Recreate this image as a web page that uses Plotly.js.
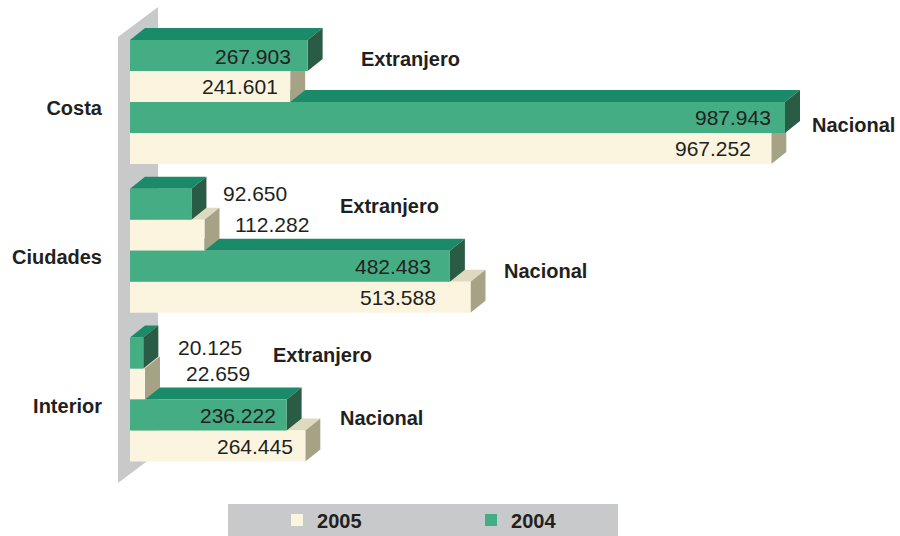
<!DOCTYPE html>
<html>
<head>
<meta charset="utf-8">
<script src="https://cdn.plot.ly/plotly-3.0.1.min.js"></script>
<style>
  body { margin: 0; background: #fff; }
  #chart { width: 900px; height: 536px; }
</style>
</head>
<body>
<div id="chart"></div>
<script>
const groups = ["Costa", "Ciudades", "Interior"];
const origins = ["Extranjero", "Nacional"];
// order: Costa Extranjero, Costa Nacional, Ciudades Extranjero, ...
const values2004 = [267903, 987943, 92650, 482483, 20125, 236222];
const values2005 = [241601, 967252, 112282, 513588, 22659, 264445];

// label placement (pixels): negative = inside bar end, positive = outside
const shift2004 = [-15, -12, 30, -17, 33, -9];
const shift2005 = [-10, -18, 29, -33, 39, -10];
const raise2004 = [-1, 0, 11, 0, 6, 0];
const raise2005 = [0, 0, 11, 0, 11, 0];
const originShift = [51, 25, 134, 31, 126, 33];
const originRaise = [12, 8, 14, 11, 14, 13];

const FONT = "Liberation Sans, Arial, sans-serif";
const INK = "#231f20";
const GROUP_STEP = 4.8;
const UNITS_PER_PX = 1508.3;
const DX = 15 * UNITS_PER_PX;
const DY = 12 / 31;

const green = {front: "#44ad84", top: "#1b8a69", side: "#2a5c45"};
const cream = {front: "#fbf5df", top: "#dedac0", side: "#a6a286"};

function fmt(v) {
    return String(v).replace(/\B(?=(\d{3})+(?!\d))/g, ".");
}

const pos2004 = values2004.map((v, i) => Math.floor(i / 2) * GROUP_STEP + (i % 2) * 2);
const pos2005 = pos2004.map(p => p + 1);

// back wall and legend panel
const shapes = [
    {
        type: "path", xref: "paper", yref: "paper", layer: "below",
        path: "M0.0101,0.931 L0.0608,0.987 L0.0608,0.155 L0.0101,0.099 Z",
        fillcolor: "#c8c9cb", line: {width: 0}
    },
    {
        type: "rect", xref: "paper", yref: "paper", layer: "below",
        x0: 0.1494, x1: 0.643, y0: 0, y1: 0.0597,
        fillcolor: "#c8c9cb", line: {width: 0}
    }
];

// 3d faces, drawn from the lowest bar upwards
const bars = [];
values2004.forEach((v, i) => bars.push({v, p: pos2004[i], c: green}));
values2005.forEach((v, i) => bars.push({v, p: pos2005[i], c: cream}));
bars.sort((a, b) => b.p - a.p);
bars.forEach(b => {
    const t = b.p - 0.5, bt = b.p + 0.5;
    shapes.push({
        type: "path", xref: "x", yref: "y", layer: "below",
        path: `M0,${t} L${b.v},${t} L${b.v + DX},${t - DY} L${DX},${t - DY} Z`,
        fillcolor: b.c.top, line: {width: 0}
    });
    shapes.push({
        type: "path", xref: "x", yref: "y", layer: "below",
        path: `M${b.v},${t} L${b.v + DX},${t - DY} L${b.v + DX},${bt - DY} L${b.v},${bt} Z`,
        fillcolor: b.c.side, line: {width: 0}
    });
});

const annotations = [];
function valueLabel(v, p, sh, rs) {
    annotations.push({
        x: v, y: p, xref: "x", yref: "y", text: fmt(v), showarrow: false,
        xanchor: sh < 0 ? "right" : "left", xshift: sh, yshift: rs,
        font: {family: FONT, size: 21, color: INK}
    });
}
values2004.forEach((v, i) => valueLabel(v, pos2004[i], shift2004[i], raise2004[i]));
values2005.forEach((v, i) => valueLabel(v, pos2005[i], shift2005[i], raise2005[i]));
values2004.forEach((v, i) => {
    annotations.push({
        x: Math.max(v, values2005[i]), y: pos2004[i] + 0.5, xref: "x", yref: "y",
        text: "<b>" + origins[i % 2] + "</b>", showarrow: false,
        xanchor: "left", xshift: originShift[i], yshift: originRaise[i],
        font: {family: FONT, size: 20, color: INK}
    });
});

const traces = [
    {
        type: "bar", orientation: "h", name: "2005",
        x: values2005, y: pos2005, width: 1,
        marker: {color: cream.front, line: {width: 0}},
        hoverinfo: "x"
    },
    {
        type: "bar", orientation: "h", name: "2004",
        x: values2004, y: pos2004, width: 1,
        marker: {color: green.front, line: {width: 0}},
        hoverinfo: "x"
    }
];

const layout = {
    width: 900, height: 536,
    margin: {l: 110, r: 0, t: 0, b: 0, autoexpand: false},
    paper_bgcolor: "#fff", plot_bgcolor: "#fff",
    barmode: "overlay",
    showlegend: true,
    xaxis: {range: [-30166, 1161391], visible: false},
    yaxis: {
        range: [15.5, -1.79],
        tickvals: groups.map((g, i) => i * GROUP_STEP + 1.7),
        ticktext: groups,
        tickfont: {family: FONT, size: 20, color: INK, weight: "bold"},
        ticklabelstandoff: 7,
        showgrid: false, zeroline: false, showline: false, ticks: ""
    },
    legend: {
        orientation: "h", x: 0.2114, xanchor: "left", y: 0.0299, yanchor: "middle",
        bgcolor: "rgba(0,0,0,0)", entrywidth: 149, traceorder: "normal",
        font: {family: FONT, size: 20, color: INK, weight: "bold"}
    },
    shapes,
    annotations
};

Plotly.newPlot("chart", traces, layout, {displayModeBar: false, staticPlot: true});
</script>
</body>
</html>
